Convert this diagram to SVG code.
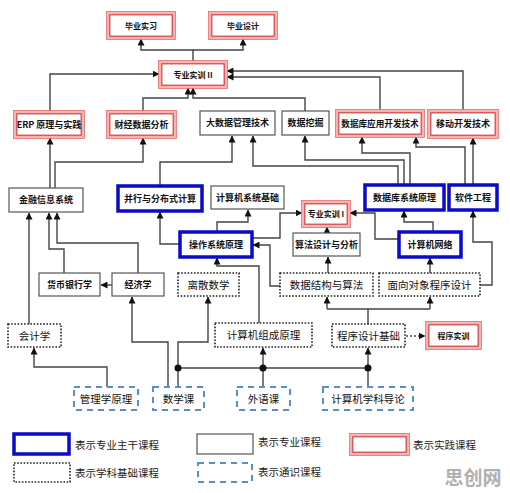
<svg xmlns="http://www.w3.org/2000/svg" width="510" height="493" viewBox="0 0 510 493">
<style>
text{font-family:"Noto Sans CJK SC","Noto Sans",sans-serif;text-anchor:middle;fill:#111}
.b{font-size:9px;font-weight:bold}
.s{font-size:8px;font-weight:bold}
.m{font-size:10.5px}
.lg{font-size:10.5px;text-anchor:start;fill:#222}
.r1{fill:#fff;stroke:#f6b3b3;stroke-width:2.5}
.r2{fill:none;stroke:#cc2a2a;stroke-width:1.1}
.r0{fill:none;stroke:#e46a6a;stroke-width:0.8}
.bl{fill:#fff;stroke:#0a0ac8;stroke-width:3.5}
.pl{fill:#fff;stroke:#555;stroke-width:1.2}
.dt{fill:#fff;stroke:#222;stroke-width:1.6;stroke-dasharray:1.6 1.6}
.ds{fill:#fff;stroke:#5b8fc8;stroke-width:2;stroke-dasharray:6 5}
.c path{fill:none;stroke:#444;stroke-width:1.4}
.c .dl{stroke-dasharray:2 2}
</style>
<defs>
<marker id="a" markerUnits="userSpaceOnUse" markerWidth="7" markerHeight="7" viewBox="0 0 7 7" refX="6.5" refY="3.5" orient="auto">
<path d="M0,0 L7,3.5 L0,7 z" fill="#111"/>
</marker>
</defs>
<g class="c" id="connectors">
<path d="M193,62 V50 H141 V39" marker-end="url(#a)"/>
<path d="M193,50 H243 V39" marker-end="url(#a)"/>
<path d="M50,112 V74 H159" marker-end="url(#a)"/>
<path d="M463,111 V71 H227" marker-end="url(#a)"/>
<path d="M380,111 V77 H227" marker-end="url(#a)"/>
<path d="M143,112 V98 H188 V88" marker-end="url(#a)"/>
<path d="M305,111 V98 H193 V88" marker-end="url(#a)"/>
<path d="M50,188 V138" marker-end="url(#a)"/>
<path d="M55,188 V162 H143 V138" marker-end="url(#a)"/>
<path d="M160,186 V162 H232 V136" marker-end="url(#a)"/>
<path d="M398,185 V166 H253 V136" marker-end="url(#a)"/>
<path d="M404,185 V160 H305 V136" marker-end="url(#a)"/>
<path d="M410,185 V153 H362 V137" marker-end="url(#a)"/>
<path d="M465,185 V147 H416 V137" marker-end="url(#a)"/>
<path d="M473,185 V138" marker-end="url(#a)"/>
<path d="M180,244 H160 V212" marker-end="url(#a)"/>
<path d="M217,232 V222 H248 V210" marker-end="url(#a)"/>
<path d="M252,238 H280 V213 H302" marker-end="url(#a)"/>
<path d="M327,233 V227" marker-end="url(#a)"/>
<path d="M399,239 H375 V213 H350" marker-end="url(#a)"/>
<path d="M433,232 V222 H404 V211" marker-end="url(#a)"/>
<path d="M280,286 H270 V245 H253" marker-end="url(#a)"/>
<path d="M328,273 V257" marker-end="url(#a)"/>
<path d="M430,273 V258" marker-end="url(#a)"/>
<path d="M480,285 H492 V242 H473 V211" marker-end="url(#a)"/>
<path d="M29,324 V213" marker-end="url(#a)"/>
<path d="M64,273 V249 H49 V213" marker-end="url(#a)"/>
<path d="M138,273 V243 H57 V213" marker-end="url(#a)"/>
<path d="M112,285 H101" marker-end="url(#a)"/>
<path d="M168,387 V342 H132 V297" marker-end="url(#a)"/>
<path d="M178,387 V342 H208 V297" marker-end="url(#a)"/>
<path d="M178,368 H368"/>
<path d="M263,387 V348" marker-end="url(#a)"/>
<path d="M368,387 V348" marker-end="url(#a)"/>
<path d="M259,323 V266 H217 V258" marker-end="url(#a)"/>
<path d="M368,324 V309"/>
<path d="M327,309 H430"/>
<path d="M327,309 V297" marker-end="url(#a)"/>
<path d="M430,309 V297" marker-end="url(#a)"/>
<path d="M107,387 V367 H34 V348" marker-end="url(#a)"/>
<path class="dl" d="M406,336 H425" marker-end="url(#a)"/>
<circle cx="178" cy="368" r="3.5" fill="#111"/>
<circle cx="263" cy="368" r="3.5" fill="#111"/>
<circle cx="368" cy="368" r="3.5" fill="#111"/>
</g>
<g id="n1"><rect class="r1" x="108" y="13" width="66" height="25"/><rect class="r0" x="106.5" y="11.5" width="69" height="28"/><rect class="r2" x="109.8" y="14.8" width="62.4" height="21.4"/><text class="s" x="141" y="28.5">毕业实习</text></g>
<g id="n2"><rect class="r1" x="210" y="13" width="66" height="25"/><rect class="r0" x="208.5" y="11.5" width="69" height="28"/><rect class="r2" x="211.8" y="14.8" width="62.4" height="21.4"/><text class="s" x="243" y="28.5">毕业设计</text></g>
<g id="n3"><rect class="r1" x="160" y="62" width="66" height="25"/><rect class="r0" x="158.5" y="60.5" width="69" height="28"/><rect class="r2" x="161.8" y="63.8" width="62.4" height="21.4"/><text class="s" x="193" y="77.5">专业实训 II</text></g>
<g id="n4"><rect class="r1" x="15" y="112" width="68" height="25"/><rect class="r0" x="13.5" y="110.5" width="71" height="28"/><rect class="r2" x="16.8" y="113.8" width="64.4" height="21.4"/><text class="b" x="49" y="127.5">ERP 原理与实践</text></g>
<g id="n5"><rect class="r1" x="108" y="112" width="67" height="25"/><rect class="r0" x="106.5" y="110.5" width="70" height="28"/><rect class="r2" x="109.8" y="113.8" width="63.4" height="21.4"/><text class="b" x="141.5" y="127.5">财经数据分析</text></g>
<g id="n6"><rect class="pl" x="200" y="111" width="75" height="24"/><text class="b" x="237.5" y="126">大数据管理技术</text></g>
<g id="n7"><rect class="pl" x="282" y="111" width="47" height="24"/><text class="b" x="305.5" y="126">数据挖掘</text></g>
<g id="n8"><rect class="r1" x="337" y="111" width="86" height="25"/><rect class="r0" x="335.5" y="109.5" width="89" height="28"/><rect class="r2" x="338.8" y="112.8" width="82.4" height="21.4"/><text class="b" x="380" y="126.5" style="font-size:8.6px">数据库应用开发技术</text></g>
<g id="n9"><rect class="r1" x="429" y="111" width="68" height="26"/><rect class="r0" x="427.5" y="109.5" width="71" height="29"/><rect class="r2" x="430.8" y="112.8" width="64.4" height="22.4"/><text class="b" x="463" y="127">移动开发技术</text></g>
<g id="n10"><rect class="pl" x="9" y="188" width="74" height="24"/><text class="b" x="46" y="203">金融信息系统</text></g>
<g id="n11"><rect class="bl" x="118" y="186" width="84" height="25"/><text class="b" x="160" y="201.5">并行与分布式计算</text></g>
<g id="n12"><rect class="pl" x="211" y="186" width="73" height="23"/><text class="b" x="247.5" y="200.5">计算机系统基础</text></g>
<g id="n13"><rect class="r1" x="303" y="202" width="46" height="24"/><rect class="r0" x="301.5" y="200.5" width="49" height="27"/><rect class="r2" x="304.8" y="203.8" width="42.4" height="20.4"/><text class="s" x="326" y="217">专业实训 I</text></g>
<g id="n14"><rect class="bl" x="365" y="185" width="79" height="25"/><text class="b" x="404.5" y="200.5">数据库系统原理</text></g>
<g id="n15"><rect class="bl" x="449" y="185" width="48" height="25"/><text class="b" x="473" y="200.5">软件工程</text></g>
<g id="n16"><rect class="bl" x="180" y="232" width="72" height="25"/><text class="b" x="216" y="247.5">操作系统原理</text></g>
<g id="n17"><rect class="pl" x="293" y="233" width="67" height="23"/><text class="b" x="326.5" y="247.5">算法设计与分析</text></g>
<g id="n18"><rect class="bl" x="399" y="232" width="62" height="25"/><text class="b" x="430" y="247.5">计算机网络</text></g>
<g id="n19"><rect class="pl" x="39" y="273" width="61" height="23"/><text class="b" x="69.5" y="287.5">货币银行学</text></g>
<g id="n20"><rect class="pl" x="112" y="273" width="52" height="23"/><text class="b" x="138" y="287.5">经济学</text></g>
<g id="n21"><rect class="dt" x="178" y="273" width="61" height="23"/><text class="m" x="208.5" y="288.5">离散数学</text></g>
<g id="n22"><rect class="dt" x="280" y="273" width="93" height="23"/><text class="m" x="326.5" y="288.5">数据结构与算法</text></g>
<g id="n23"><rect class="dt" x="379" y="273" width="101" height="23"/><text class="m" x="429.5" y="288.5">面向对象程序设计</text></g>
<g id="n24"><rect class="dt" x="8" y="324" width="53" height="23"/><text class="m" x="34.5" y="339.5">会计学</text></g>
<g id="n25"><rect class="dt" x="215" y="323" width="97" height="24"/><text class="m" x="263.5" y="339">计算机组成原理</text></g>
<g id="n26"><rect class="dt" x="332" y="324" width="73" height="23"/><text class="m" x="368.5" y="339.5">程序设计基础</text></g>
<g id="n27"><rect class="r1" x="427" y="323" width="53" height="25"/><rect class="r0" x="425.5" y="321.5" width="56" height="28"/><rect class="r2" x="428.8" y="324.8" width="49.4" height="21.4"/><text class="s" x="453.5" y="338.5">程序实训</text></g>
<g id="n28"><rect class="ds" x="74" y="387" width="64" height="23"/><text class="m" x="106" y="402.5">管理学原理</text></g>
<g id="n29"><rect class="ds" x="153" y="387" width="51" height="23"/><text class="m" x="178.5" y="402.5">数学课</text></g>
<g id="n30"><rect class="ds" x="237" y="387" width="53" height="23"/><text class="m" x="263.5" y="402.5">外语课</text></g>
<g id="n31"><rect class="ds" x="323" y="387" width="90" height="23"/><text class="m" x="368" y="402.5">计算机学科导论</text></g>
<g id="legend">
<rect class="bl" x="14" y="434" width="55" height="20"/><text class="lg" x="75" y="449">表示专业主干课程</text>
<rect class="pl" x="197" y="434" width="56" height="20"/><text class="lg" x="258" y="446">表示专业课程</text>
<rect class="r1" x="351" y="435" width="57" height="19"/><rect class="r0" x="349.5" y="433.5" width="60" height="22"/><rect class="r2" x="352.8" y="436.8" width="53.4" height="15.4"/><text class="lg" x="413" y="449">表示实践课程</text>
<rect class="dt" x="14" y="463" width="56" height="19"/><text class="lg" x="75" y="477">表示学科基础课程</text>
<rect class="ds" x="198" y="463" width="54" height="19"/><text class="lg" x="258" y="476">表示通识课程</text>
</g>
<text x="473" y="485" style="font-size:19px;font-weight:bold;fill:#b0b0b0">思创网</text>
</svg>
